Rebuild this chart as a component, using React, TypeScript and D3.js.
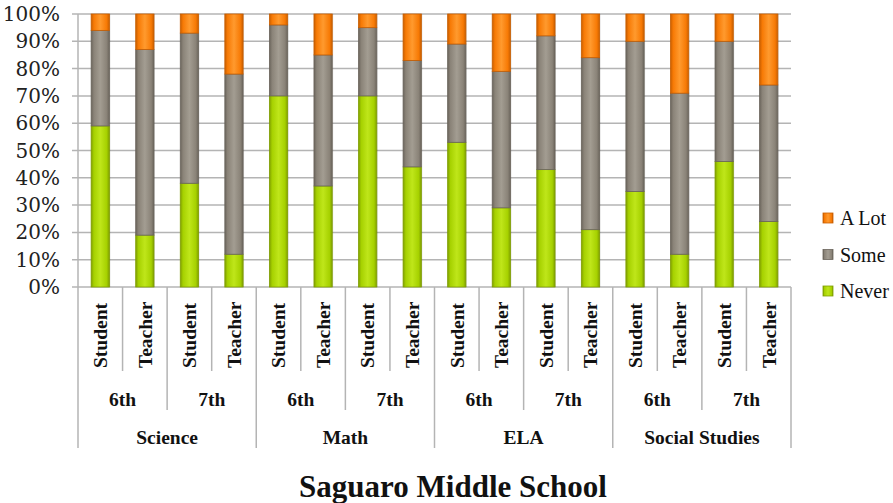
import React from "react";
import * as d3 from "d3";

const subjects = ["Science", "Math", "ELA", "Social Studies"];
const grades = ["6th", "7th"];
const roles = ["Student", "Teacher"];
const seriesNames = ["Never", "Some", "A Lot"];
const neverVals = [59, 19, 38, 12, 70, 37, 70, 44, 53, 29, 43, 21, 35, 12, 46, 24];
const someVals = [35, 68, 55, 66, 26, 48, 25, 39, 36, 50, 49, 63, 55, 59, 44, 50];
const aLotVals = [6, 13, 7, 22, 4, 15, 5, 17, 11, 21, 8, 16, 10, 29, 10, 26];
const yTicks = [0, 10, 20, 30, 40, 50, 60, 70, 80, 90, 100];
const colors = ["#a6d100", "#8a8378", "#f77a05"];
const darkColors = ["#7f9e00", "#6a645b", "#c85e00"];
const lightColors = ["#bfe61a", "#a39d92", "#ff9a2e"];

const W = 893, H = 503;
const L = 78, R = 791, T = 14, B = 287;
const FONT = "Liberation Serif";

export default function App() {
  const cats = d3.range(16);
  const x = d3.scaleBand<number>().domain(cats).range([L, R]).padding(0);
  const y = d3.scaleLinear().domain([0, 100]).range([B, T]);
  const step = x.step();
  const bw = step * 0.41;
  const rows = cats.map((i) => ({ i, Never: neverVals[i], Some: someVals[i], "A Lot": aLotVals[i] }));
  const stacked = d3.stack<any>().keys(seriesNames)(rows);
  const grey = "#b4b4b4";
  const ts = { fontFamily: FONT };

  return (
    <svg width={W} height={H} style={{ position: "absolute", left: 0, top: 0 }}>
      <defs>
        {colors.map((c, k) => (
          <linearGradient key={k} id={"g" + k} x1="0" x2="1" y1="0" y2="0">
            <stop offset="0" stopColor={darkColors[k]} />
            <stop offset="0.15" stopColor={c} />
            <stop offset="0.5" stopColor={lightColors[k]} />
            <stop offset="0.85" stopColor={c} />
            <stop offset="1" stopColor={darkColors[k]} />
          </linearGradient>
        ))}
      </defs>
      {yTicks.map((t) => (
        <line key={t} x1={L - 6} x2={R} y1={y(t)} y2={y(t)} stroke={grey} strokeWidth={1.5} />
      ))}
      <line x1={L} x2={L} y1={T} y2={B} stroke={grey} strokeWidth={1.5} />
      {yTicks.map((t) => (
        <text key={t} style={{ fontFamily: "DejaVu Serif" }} x={60} y={y(t)} dy="0.35em" textAnchor="end" fontSize={20} fill="#222">
          {t + "%"}
        </text>
      ))}
      {stacked.map((s, k) => (
        <g key={k}>
          {s.map((d, j) => {
            const x0 = (x(j) as number) + (step - bw) / 2;
            const y1 = y(d[1]);
            const y0 = y(d[0]);
            return (
              <g key={j}>
                <rect x={x0 + 1} y={y1} width={bw} height={y0 - y1} fill="#000" opacity={0.12} />
                <rect x={x0} y={y1} width={bw} height={y0 - y1} fill={`url(#g${k})`} stroke={darkColors[k]} strokeWidth={0.8} />
              </g>
            );
          })}
        </g>
      ))}
      {d3.range(17).map((b) => {
        const xx = L + b * step;
        const len = b % 4 === 0 ? 448 : b % 2 === 0 ? 410 : 371;
        return <line key={b} x1={xx} x2={xx} y1={B} y2={len} stroke={grey} strokeWidth={1.5} />;
      })}
      {cats.map((i) => {
        const cx = (x(i) as number) + step / 2;
        return (
          <text key={i} style={ts} transform={`translate(${cx},368) rotate(-90)`} dy="0.35em" textAnchor="start" fontSize={19.5} fontWeight="bold" fill="#111">
            {roles[i % 2]}
          </text>
        );
      })}
      {d3.range(8).map((g) => (
        <text key={g} style={{ fontFamily: "Tinos" }} x={L + step * (g * 2 + 1)} y={399} dy="0.35em" textAnchor="middle" fontSize={19.5} fontWeight="bold" fill="#111">
          {grades[g % 2]}
        </text>
      ))}
      {subjects.map((s, k) => (
        <text key={s} style={{ fontFamily: "Times New Roman" }} x={L + step * (k * 4 + 2)} y={437.5} dy="0.35em" textAnchor="middle" fontSize={19.5} fontWeight="bold" fill="#111">
          {s}
        </text>
      ))}
      {[2, 1, 0].map((k, idx) => (
        <g key={k} transform={`translate(823,${213 + idx * 36.5})`}>
          <rect x={0} y={0} width={10} height={10} fill={`url(#g${k})`} stroke={darkColors[k]} strokeWidth={0.8} />
          <text style={{ fontFamily: "serif" }} x={17} y={5} dy="0.35em" fontSize={20} fill="#111">{seriesNames[k]}</text>
        </g>
      ))}
      <text style={{ fontFamily: "Liberation Serif, serif" }} x={453} y={497} textAnchor="middle" fontSize={31} fontWeight="bold" fill="#111">
        Saguaro Middle School
      </text>
    </svg>
  );
}
